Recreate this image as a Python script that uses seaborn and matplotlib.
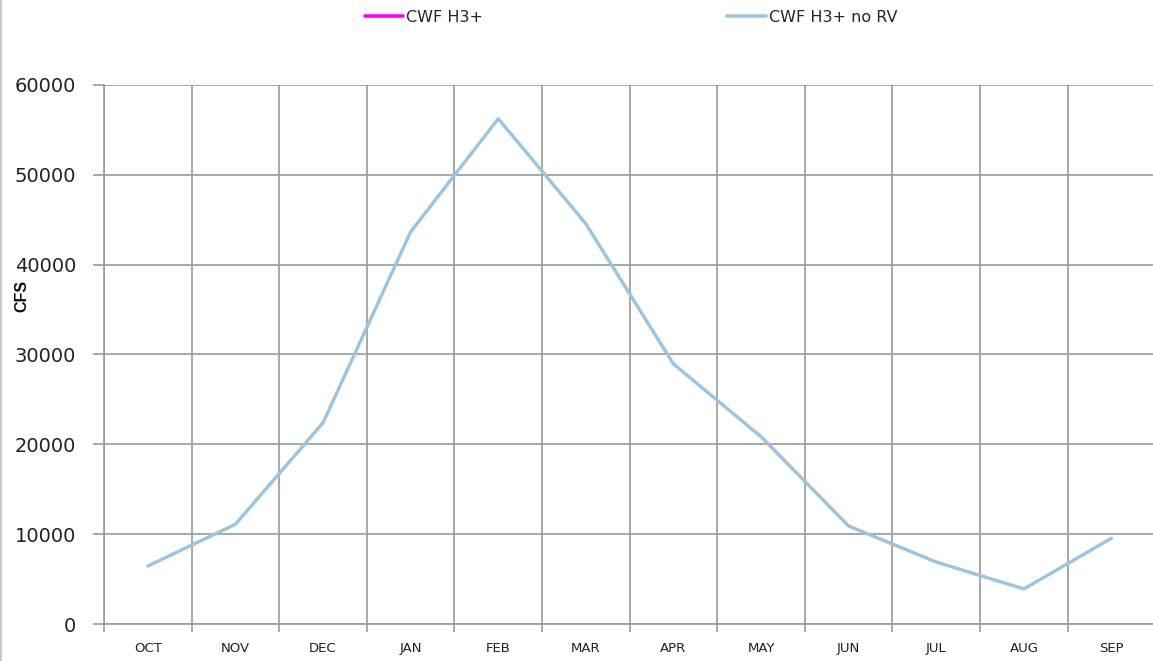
import matplotlib
matplotlib.use("Agg")
import matplotlib.pyplot as plt
import seaborn as sns
import pandas as pd
import numpy as np
from matplotlib.lines import Line2D
from matplotlib.ticker import FixedLocator
from matplotlib.font_manager import FontProperties

months = ["OCT", "NOV", "DEC", "JAN", "FEB", "MAR", "APR", "MAY", "JUN", "JUL", "AUG", "SEP"]
cwf_h3 = [6450, 11100, 22400, 43650, 56250, 44550, 28950, 20850, 10900, 6900, 3900, 9550]
cwf_h3_no_rv = [6450, 11100, 22400, 43650, 56250, 44550, 28950, 20850, 10900, 6900, 3900, 9550]
series_names = ["CWF H3+", "CWF H3+ no RV"]
series_colors = ["#ff00ff", "#9cc5df"]
y_ticks = [0, 10000, 20000, 30000, 40000, 50000, 60000]

sns.set_style("white")
plt.rcParams['font.family'] = ['DejaVu Sans']

df = pd.DataFrame({
    "pos": list(range(len(months))) * 2,
    "value": cwf_h3 + cwf_h3_no_rv,
    "series": [series_names[0]] * len(months) + [series_names[1]] * len(months),
})

fig = plt.figure(figsize=(11.53, 6.61), dpi=100)
ax = fig.add_axes([104 / 1153, 1 - 624 / 661, 1 - 104 / 1153 + 0.002, (624 - 85) / 661])

sns.lineplot(data=df[df["series"] == series_names[0]], x="pos", y="value",
             color=series_colors[0], linewidth=1.6, ax=ax, legend=False,
             solid_capstyle="round", solid_joinstyle="round", zorder=3)
sns.lineplot(data=df[df["series"] == series_names[1]], x="pos", y="value",
             color=series_colors[1], linewidth=2.4, ax=ax, legend=False,
             solid_capstyle="round", solid_joinstyle="round", zorder=4)

ax.set_xlim(-0.5, len(months) - 0.5)
ax.set_ylim(0, 60000)
ax.set_yticks(y_ticks)
ax.set_yticklabels([str(v) for v in y_ticks])
ax.xaxis.set_major_locator(FixedLocator(list(range(len(months)))))
ax.set_xticklabels(months)
ax.xaxis.set_minor_locator(FixedLocator([i - 0.5 for i in range(len(months) + 1)]))

gcol = "#9a9a9a"
ax.grid(which="minor", axis="x", color=gcol, linewidth=1.2)
ax.grid(which="major", axis="y", color=gcol, linewidth=1.2)
ax.grid(which="major", axis="x", visible=False)
ax.tick_params(axis="x", which="major", length=0, pad=13, labelsize=9.5, colors="#222222")
ax.tick_params(axis="x", which="minor", length=6, width=1.2, color=gcol, direction="out", bottom=True)
ax.tick_params(axis="y", which="major", length=8, width=1.2, color=gcol, direction="out",
               pad=12, labelsize=14, left=True, labelcolor="#222222")
for s in ["top", "right"]:
    ax.spines[s].set_visible(False)
for s in ["left", "bottom"]:
    ax.spines[s].set_color(gcol)
    ax.spines[s].set_linewidth(1.2)
ax.set_xlabel("")
ax.set_ylabel("")

fp = FontProperties(family="Liberation Sans", weight="bold", size=11.5)
fig.text(22 / 1153, 1 - 296 / 661, "CFS", rotation=90, ha="center", va="center",
         fontproperties=fp, color="#111111")

handles = [Line2D([], [], color=c, linewidth=2.6) for c in series_colors]
fig.legend(handles, series_names, loc="center", bbox_to_anchor=(631 / 1153, 1 - 17 / 661),
           ncol=2, frameon=False, fontsize=11.5, handlelength=2.4, handletextpad=0.2,
           columnspacing=15.3, borderpad=0, borderaxespad=0)

fig.add_artist(Line2D([0.0009, 0.0009], [0, 1], transform=fig.transFigure, color="#c8c8c8", linewidth=1.5))

fig.savefig("out.png", dpi=100)
